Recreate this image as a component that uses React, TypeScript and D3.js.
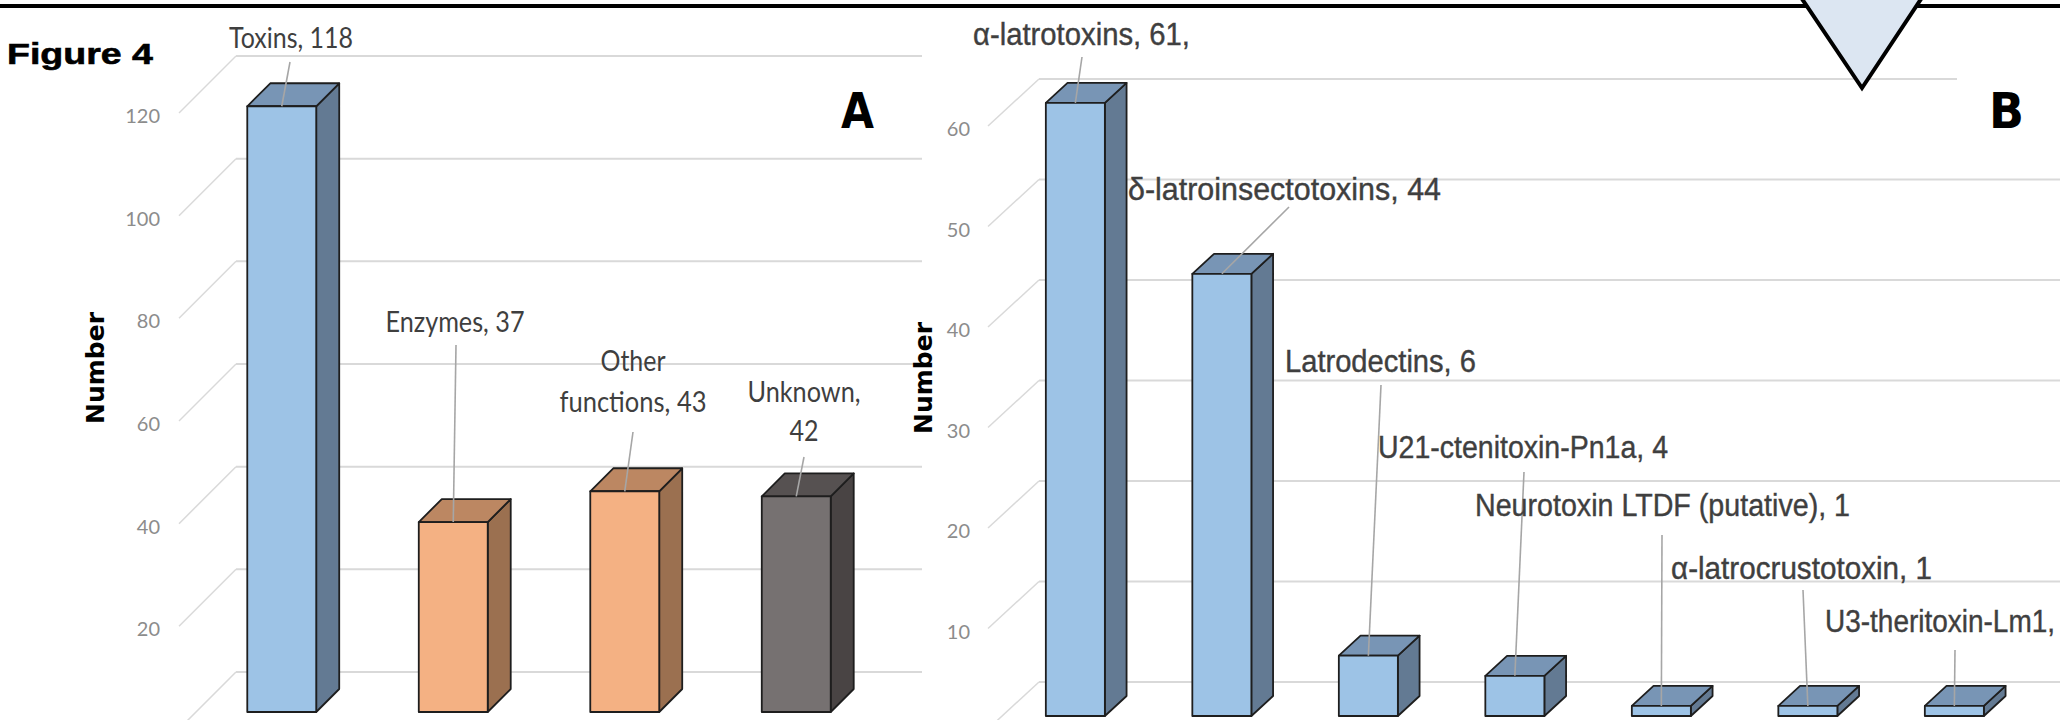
import React from "react";
import * as d3 from "d3";

// ---------- data ----------
const panelACategories = ["Toxins", "Enzymes", "Other functions", "Unknown"];
const panelAValues = [118, 37, 43, 42];
const panelALabels = [["Toxins, 118"], ["Enzymes, 37"], ["Other", "functions, 43"], ["Unknown,", "42"]];
const panelAColorKeys = ["blue", "orange", "orange", "gray"];
const panelATicks = [0, 20, 40, 60, 80, 100, 120];

const panelBCategories = [
  "α-latrotoxins",
  "δ-latroinsectotoxins",
  "Latrodectins",
  "U21-ctenitoxin-Pn1a",
  "Neurotoxin LTDF (putative)",
  "α-latrocrustotoxin",
  "U3-theritoxin-Lm1",
];
const panelBValues = [61, 44, 6, 4, 1, 1, 1];
const panelBLabels = [
  "α-latrotoxins, 61,",
  "δ-latroinsectotoxins, 44",
  "Latrodectins, 6",
  "U21-ctenitoxin-Pn1a, 4",
  "Neurotoxin LTDF (putative), 1",
  "α-latrocrustotoxin, 1",
  "U3-theritoxin-Lm1,",
];
const panelBTicks = [0, 10, 20, 30, 40, 50, 60];

const axisTitle = "Number";

// ---------- styles / layout ----------
const palettes: Record<string, { front: string; top: string; side: string }> = {
  blue: { front: "#9DC3E6", top: "#7895B5", side: "#637A93" },
  orange: { front: "#F4B183", top: "#BC8762", side: "#9B7050" },
  gray: { front: "#767171", top: "#565151", side: "#494444" },
};

const layoutA = {
  x0: 179, width: 686, yZero: 729, yMax: 113, maxV: 120,
  depth: 57, kx: 1.0, z0: 17, z1: 40, pad: 0.598, tickRight: 160,
  titleX: 95, titleY: 368,
};
const layoutB = {
  x0: 988, width: 1025.5, yZero: 729, yMax: 126, maxV: 60,
  depth: 47, kx: 1.085, z0: 13, z1: 33, pad: 0.597, tickRight: 970,
  titleX: 923, titleY: 378, extendRight: 100,
};

// label placements (layout only)
const labelLayoutA = [
  { cx: 291, ys: [48], ws: [124], lx: 290, ly: 62 },
  { cx: 455, ys: [332], ws: [139], lx: 456, ly: 345 },
  { cx: 633, ys: [371, 412], ws: [65, 147], lx: 633, ly: 432 },
  { cx: 804, ys: [402, 441], ws: [113, 29], lx: 804, ly: 457 },
];
const labelLayoutB = [
  { x: 973, y: 45, w: 217, lx: 1082, ly: 57 },
  { x: 1128, y: 200, w: 313, lx: 1289, ly: 207 },
  { x: 1285, y: 372, w: 191, lx: 1381, ly: 385 },
  { x: 1378, y: 458, w: 290, lx: 1524, ly: 472 },
  { x: 1475, y: 516, w: 375, lx: 1662, ly: 535 },
  { x: 1671, y: 579, w: 261, lx: 1803, ly: 590 },
  { x: 1825, y: 632, w: 230, lx: 1955, ly: 650 },
];

const GRID = "#D9D9D9";
const LEADER = "#A6A6A6";
const TEXT = "#3F3F3F";
const TICK = "#8C8C8C";
const EDGE = "#1E1E1E";

type Layout = typeof layoutA & { extendRight?: number };

function scalesFor(cats: string[], L: Layout) {
  const y = d3.scaleLinear().domain([0, L.maxV]).range([L.yZero, L.yMax]);
  const x = d3
    .scaleBand<string>()
    .domain(cats)
    .range([L.x0, L.x0 + L.width])
    .paddingInner(L.pad)
    .paddingOuter(L.pad / 2);
  return { x, y };
}

function Panel({
  cats, values, ticks, colorKeys, L,
}: {
  cats: string[]; values: number[]; ticks: number[]; colorKeys: string[]; L: Layout;
}) {
  const { x, y } = scalesFor(cats, L);
  const dX = L.depth * L.kx;
  const dY = L.depth;
  const wallRight = L.x0 + L.width + dX + (L.extendRight || 0);
  const bw = x.bandwidth();

  return (
    <g>
      {ticks.map((t) => (
        <g key={"g" + t}>
          <line x1={L.x0 + dX} x2={wallRight} y1={y(t) - dY} y2={y(t) - dY} stroke={GRID} strokeWidth={2} />
          <line x1={L.x0} y1={y(t)} x2={L.x0 + dX} y2={y(t) - dY} stroke={GRID} strokeWidth={1.5} />
        </g>
      ))}
      {ticks
        .filter((t) => y(t) < 712)
        .map((t) => (
          <text
            key={"t" + t}
            x={L.tickRight}
            y={y(t) + 2}
            textAnchor="end"
            dominantBaseline="central"
            fontFamily="Lato, 'Open Sans', sans-serif"
            fontSize={20}
            fill={TICK}
          >
            {t}
          </text>
        ))}
      {cats.map((c, i) => {
        const p = palettes[colorKeys[i]];
        const bx = (x(c) as number) + L.z0 * L.kx;
        const y0 = y(0) - L.z0;
        const yT = y(values[i]) - L.z0;
        const dz = L.z1 - L.z0;
        const dx = dz * L.kx;
        const top = [[bx, yT], [bx + bw, yT], [bx + bw + dx, yT - dz], [bx + dx, yT - dz]];
        const side = [[bx + bw, yT], [bx + bw + dx, yT - dz], [bx + bw + dx, y0 - dz], [bx + bw, y0]];
        const pts = (a: number[][]) => a.map((q) => q.join(",")).join(" ");
        return (
          <g key={c} stroke={EDGE} strokeWidth={1.8} strokeLinejoin="round">
            <polygon points={pts(side)} fill={p.side} />
            <polygon points={pts(top)} fill={p.top} />
            <rect x={bx} y={yT} width={bw} height={y0 - yT} fill={p.front} />
          </g>
        );
      })}
      <text
        transform={`translate(${L.titleX},${L.titleY}) rotate(-90)`}
        textAnchor="middle"
        dominantBaseline="central"
        fontFamily="'DejaVu Sans', sans-serif"
        fontWeight="bold"
        fontSize={25}
        fill="#000"
      >
        {axisTitle}
      </text>
    </g>
  );
}

function barTopAnchor(cats: string[], values: number[], L: Layout, i: number) {
  const { x, y } = scalesFor(cats, L);
  const bx = (x(cats[i]) as number) + L.z0 * L.kx;
  return { x: bx + x.bandwidth() / 2, y: y(values[i]) - L.z0 };
}

export default function App() {
  return (
    <div style={{ position: "absolute", left: 0, top: 0 }}>
      <svg width={2060} height={720} viewBox="0 0 2060 720" style={{ display: "block", background: "#fff" }}>
        <rect x={0} y={0} width={2060} height={720} fill="#fff" />

        <Panel cats={panelACategories} values={panelAValues} ticks={panelATicks} colorKeys={panelAColorKeys} L={layoutA as Layout} />
        <Panel
          cats={panelBCategories}
          values={panelBValues}
          ticks={panelBTicks}
          colorKeys={panelBCategories.map(() => "blue")}
          L={layoutB as Layout}
        />

        {panelALabels.map((lines, i) => {
          const a = barTopAnchor(panelACategories, panelAValues, layoutA as Layout, i);
          const lay = labelLayoutA[i];
          return (
            <g key={"la" + i}>
              <line x1={lay.lx} y1={lay.ly} x2={a.x} y2={a.y} stroke={LEADER} strokeWidth={1.6} />
              {lines.map((s, j) => (
                <text
                  key={j}
                  x={lay.cx}
                  y={lay.ys[j]}
                  textAnchor="middle"
                  fontFamily="Lato, 'Open Sans', sans-serif"
                  fontSize={29}
                  fill={TEXT}
                  textLength={lay.ws[j]}
                  lengthAdjust="spacingAndGlyphs"
                >
                  {s}
                </text>
              ))}
            </g>
          );
        })}

        {panelBLabels.map((s, i) => {
          const a = barTopAnchor(panelBCategories, panelBValues, layoutB as Layout, i);
          const lay = labelLayoutB[i];
          return (
            <g key={"lb" + i}>
              <line x1={lay.lx} y1={lay.ly} x2={a.x} y2={a.y} stroke={LEADER} strokeWidth={1.6} />
              <text
                x={lay.x}
                y={lay.y}
                fontFamily="'Liberation Sans', Arial, sans-serif"
                fontSize={31}
                fill={TEXT}
                stroke={TEXT}
                strokeWidth={0.4}
                textLength={lay.w}
                lengthAdjust="spacingAndGlyphs"
              >
                {s}
              </text>
            </g>
          );
        })}

        <text x={841} y={128} fontFamily="'DejaVu Sans', sans-serif" fontWeight="bold" fontSize={50} textLength={33} lengthAdjust="spacingAndGlyphs" fill="#000">A</text>
        <rect x={1957} y={62} width={110} height={80} fill="#fff" />
        <text x={1989} y={128} fontFamily="'DejaVu Sans', sans-serif" fontWeight="bold" fontSize={50} textLength={35} lengthAdjust="spacingAndGlyphs" fill="#000">B</text>

        <line x1={0} x2={2060} y1={6} y2={6} stroke="#000" strokeWidth={4} />
        <polygon points="1796,-10 1927,-10 1862,88" fill="#DCE6F2" stroke="#000" strokeWidth={4} strokeLinejoin="miter" />
        <text x={7} y={64} fontFamily="'Liberation Sans', Arial, sans-serif" fontWeight="bold" fontSize={30} stroke="#000" strokeWidth={0.6} textLength={146} lengthAdjust="spacingAndGlyphs" fill="#000">Figure 4</text>
      </svg>
    </div>
  );
}
